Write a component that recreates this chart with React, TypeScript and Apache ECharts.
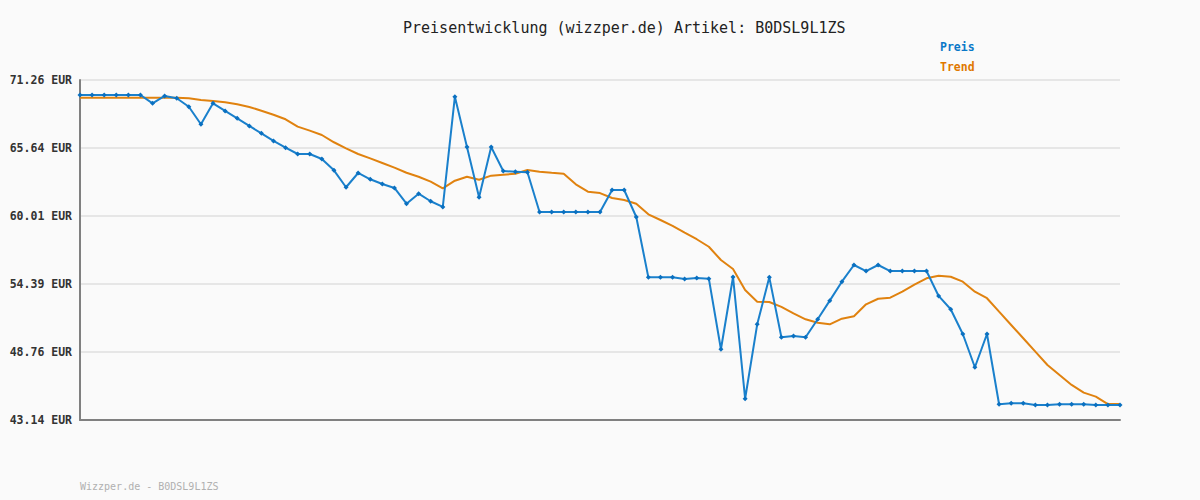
import React, { useEffect, useRef } from "react";
import * as echarts from "echarts";

const titleText = "Preisentwicklung (wizzper.de) Artikel: B0DSL9L1ZS";
const footerText = "Wizzper.de - B0DSL9L1ZS";
const seriesNames = ["Preis", "Trend"];
const yTickLabels = ["43.14 EUR", "48.76 EUR", "54.39 EUR", "60.01 EUR", "65.64 EUR", "71.26 EUR"];
const yMin = 43.14;
const yMax = 71.26;

const preis = [
  70.02, 70.02, 70.02, 70.02, 70.02, 70.02, 69.33, 69.94, 69.75, 69.05,
  67.6, 69.33, 68.7, 68.09, 67.46, 66.85, 66.22, 65.66, 65.14, 65.14,
  64.73, 63.79, 62.39, 63.57, 63.05, 62.66, 62.33, 61.03, 61.86, 61.23,
  60.76, 69.88, 65.72, 61.56, 65.72, 63.73, 63.68, 63.63, 60.34, 60.34,
  60.34, 60.34, 60.34, 60.34, 62.16, 62.16, 59.93, 54.94, 54.94, 54.94,
  54.8, 54.88, 54.83, 48.99, 54.97, 44.9, 51.05, 54.94, 49.98, 50.09,
  49.98, 51.47, 53.01, 54.58, 55.96, 55.46, 55.96, 55.46, 55.46, 55.46,
  55.46, 53.4, 52.3, 50.25, 47.5, 50.25, 44.44, 44.52, 44.52, 44.38,
  44.38, 44.44, 44.44, 44.44, 44.38, 44.38, 44.38,
];

const trend = [
  69.8, 69.8, 69.8, 69.8, 69.8, 69.8, 69.8, 69.8, 69.8, 69.75,
  69.61, 69.52, 69.42, 69.25, 69.03, 68.72, 68.39, 68.01, 67.4, 67.07,
  66.71, 66.11, 65.61, 65.14, 64.78, 64.4, 64.01, 63.59, 63.26, 62.85,
  62.3, 62.93, 63.26, 63.01, 63.35, 63.43, 63.51, 63.82, 63.68, 63.59,
  63.51, 62.63, 62.02, 61.91, 61.5, 61.34, 61.03, 60.15, 59.68, 59.19,
  58.63, 58.09, 57.47, 56.37, 55.63, 53.89, 52.92, 52.9, 52.49, 51.96,
  51.47, 51.19, 51.05, 51.52, 51.72, 52.71, 53.17, 53.26, 53.75, 54.33,
  54.86, 55.07, 54.99, 54.58, 53.75, 53.21, 52.1, 51.0, 49.9, 48.79,
  47.69, 46.86, 46.04, 45.4, 45.07, 44.46, 44.46,
];

const BLUE = "#1a80cc";
const BLUE_TEXT = "#0a78c8";
const ORANGE = "#e0820f";
const ORANGE_TEXT = "#e07800";
const MONO = "'DejaVu Sans Mono', 'Liberation Mono', monospace";

export default function App() {
  const ref = useRef<HTMLDivElement>(null);
  useEffect(() => {
    document.body.style.margin = "0";
    if (!ref.current) return;
    const chart = echarts.init(ref.current, undefined, { renderer: "svg" });
    const categories = preis.map((_, i) => String(i + 1));
    chart.setOption({
      animation: false,
      backgroundColor: "#fafafa",
      title: {
        text: titleText,
        left: 398,
        top: 15,
        textStyle: { fontFamily: MONO, fontSize: 15, fontWeight: "normal", color: "#222222" },
      },
      graphic: [
        { type: "text", left: 940, top: 41, style: { text: seriesNames[0], fill: BLUE_TEXT, font: `bold 11.5px ${MONO}` } },
        { type: "text", left: 940, top: 61, style: { text: seriesNames[1], fill: ORANGE_TEXT, font: `bold 11.5px ${MONO}` } },
        { type: "text", left: 80, top: 481, style: { text: footerText, fill: "#b0b0b0", font: `10px ${MONO}` } },
      ],
      grid: { left: 80, right: 80, top: 80, bottom: 80, containLabel: false },
      xAxis: {
        type: "category",
        data: categories,
        boundaryGap: false,
        axisLine: { show: true, lineStyle: { color: "#808080", width: 2 } },
        axisTick: { show: false },
        axisLabel: { show: false },
        splitLine: { show: false },
      },
      yAxis: [
        {
          type: "value",
          min: yMin,
          max: yMax,
          axisLine: { show: false },
          axisTick: { show: false },
          axisLabel: { show: false },
          splitLine: { show: false },
        },
        {
          type: "value",
          position: "left",
          min: 0,
          max: yTickLabels.length - 1,
          interval: 1,
          axisLine: { show: true, lineStyle: { color: "#808080", width: 2 } },
          axisTick: { show: false },
          axisLabel: {
            margin: 8,
            formatter: (v: number) => yTickLabels[Math.round(v)] ?? "",
            fontFamily: MONO,
            fontSize: 11.5,
            fontWeight: "bold",
            color: "#333333",
          },
          splitLine: { show: true, lineStyle: { color: "#e6e6e6", width: 2 } },
        },
      ],
      series: [
        {
          name: seriesNames[1],
          type: "line",
          yAxisIndex: 0,
          data: trend,
          symbol: "none",
          lineStyle: { color: ORANGE, width: 2 },
          itemStyle: { color: ORANGE },
          z: 2,
        },
        {
          name: seriesNames[0],
          type: "line",
          yAxisIndex: 0,
          data: preis,
          symbol: "diamond",
          symbolSize: 5,
          showSymbol: true,
          lineStyle: { color: BLUE, width: 2 },
          itemStyle: { color: "#0a70c0" },
          z: 3,
        },
      ],
    });
    return () => chart.dispose();
  }, []);
  return <div ref={ref} style={{ width: 1200, height: 500 }} />;
}
